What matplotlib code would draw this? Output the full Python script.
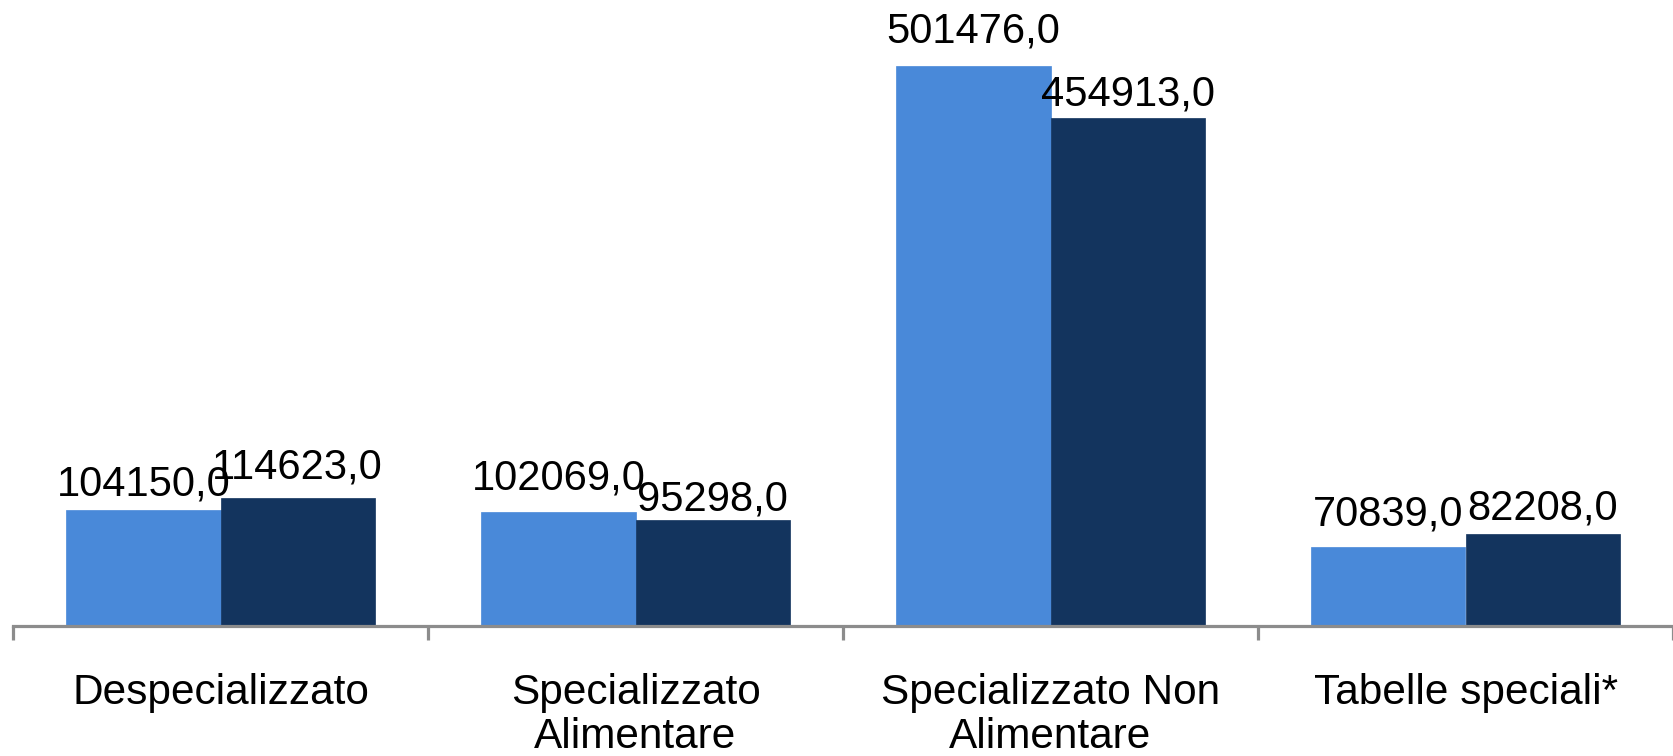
import matplotlib
matplotlib.use("Agg")
import matplotlib.pyplot as plt
import numpy as np

# Data
categories = ["Despecializzato", "Specializzato\nAlimentare",
              "Specializzato Non\nAlimentare", "Tabelle speciali*"]
series_a = [104150.0, 102069.0, 501476.0, 70839.0]
series_b = [114623.0, 95298.0, 454913.0, 82208.0]

# Per-label vertical gap (pixels) between the label baseline and the bar top
gap_a = [14, 23, 23, 21]
gap_b = [20, 9, 12, 15]

color_a = "#4989D9"
color_b = "#13345E"
axis_gray = "#8C8C8C"

plt.rcParams["font.family"] = ["Liberation Sans", "DejaVu Sans"]

W, H, DPI = 1673, 756, 100
fig = plt.figure(figsize=(W / DPI, H / DPI), dpi=DPI)
left_px, base_px = 13, 626
ax = fig.add_axes([left_px / W, 1 - base_px / H, 1 - left_px / W, base_px / H])

cat_px = 417.0
x = np.arange(len(categories))
bw = 155.0 / cat_px
fs_val = 30
fs_cat = 30.5

ax.bar(x - bw / 2, series_a, width=bw, color=color_a, edgecolor=color_a,
       linewidth=0.5, zorder=2)
ax.bar(x + bw / 2, series_b, width=bw, color=color_b, edgecolor=color_b,
       linewidth=0.5, zorder=2)

def fmt(v):
    return f"{v:.1f}".replace(".", ",")

for xi, va_, vb_, ga, gb in zip(x, series_a, series_b, gap_a, gap_b):
    ax.annotate(fmt(va_), (xi - bw / 2, va_), xytext=(0, ga),
                textcoords="offset pixels", ha="center", va="baseline",
                fontsize=fs_val, color="black", zorder=4)
    ax.annotate(fmt(vb_), (xi + bw / 2, vb_), xytext=(0, gb),
                textcoords="offset pixels", ha="center", va="baseline",
                fontsize=fs_val, color="black", zorder=4)

ymax = 501476.0 * base_px / 560.0
ax.set_ylim(0, ymax)
ax.set_xlim(-0.5, -0.5 + (W - left_px) / cat_px)

for s in ("top", "right", "left"):
    ax.spines[s].set_visible(False)
ax.spines["bottom"].set_color(axis_gray)
ax.spines["bottom"].set_linewidth(2.3)
ax.spines["bottom"].set_zorder(3)
ax.yaxis.set_visible(False)

# Boundary ticks between categories, labels at category centres
ax.set_xticks(np.arange(len(categories) + 1) - 0.5)
ax.set_xticklabels([])
ax.tick_params(axis="x", which="major", length=10, width=2.3, color=axis_gray)
ax.set_xticks(x, minor=True)
ax.set_xticklabels(categories, minor=True, fontsize=fs_cat, linespacing=1.14)
ax.tick_params(axis="x", which="minor", length=0, pad=33.5)

fig.savefig("out.png", dpi=DPI)
